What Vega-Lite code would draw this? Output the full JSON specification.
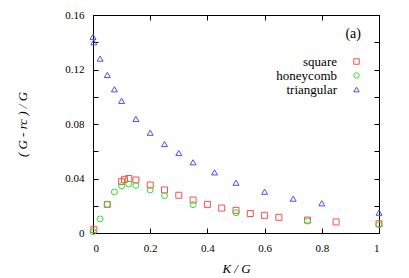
{
  "$schema": "https://vega.github.io/schema/vega-lite/v6.json",
  "autosize": "none",
  "width": 286,
  "height": 218,
  "padding": {"left": 93, "top": 15, "right": 30, "bottom": 45},
  "background": "white",
  "config": {
    "view": {"stroke": "black", "strokeWidth": 1},
    "font": "Liberation Serif",
    "axis": {"grid": false, "domainColor": "black", "tickColor": "black", "labelColor": "black", "titleColor": "black", "labelFont": "Liberation Serif", "titleFont": "Liberation Serif", "labelFontSize": 11, "titleFontSize": 13, "titleFontWeight": "normal", "titleFontStyle": "italic"},
    "legend": {"labelFont": "Liberation Serif", "titleFont": "Liberation Serif"}
  },
  "data": {"values": [
    {"lattice": "triangular", "K": 0.0, "v": 0.144},
    {"lattice": "triangular", "K": 0.003, "v": 0.140},
    {"lattice": "triangular", "K": 0.025, "v": 0.128},
    {"lattice": "triangular", "K": 0.05, "v": 0.116},
    {"lattice": "triangular", "K": 0.075, "v": 0.1055},
    {"lattice": "triangular", "K": 0.1, "v": 0.097},
    {"lattice": "triangular", "K": 0.15, "v": 0.0837},
    {"lattice": "triangular", "K": 0.2, "v": 0.0736},
    {"lattice": "triangular", "K": 0.25, "v": 0.0653},
    {"lattice": "triangular", "K": 0.3, "v": 0.0587},
    {"lattice": "triangular", "K": 0.35, "v": 0.0519},
    {"lattice": "triangular", "K": 0.425, "v": 0.0445},
    {"lattice": "triangular", "K": 0.5, "v": 0.0369},
    {"lattice": "triangular", "K": 0.6, "v": 0.0303},
    {"lattice": "triangular", "K": 0.7, "v": 0.0252},
    {"lattice": "triangular", "K": 0.8, "v": 0.0218},
    {"lattice": "triangular", "K": 1.0, "v": 0.0149},
    {"lattice": "square", "K": 0.003, "v": 0.0025},
    {"lattice": "square", "K": 0.05, "v": 0.021},
    {"lattice": "square", "K": 0.1, "v": 0.0377},
    {"lattice": "square", "K": 0.11, "v": 0.0394},
    {"lattice": "square", "K": 0.125, "v": 0.040},
    {"lattice": "square", "K": 0.15, "v": 0.0389},
    {"lattice": "square", "K": 0.2, "v": 0.0352},
    {"lattice": "square", "K": 0.25, "v": 0.0316},
    {"lattice": "square", "K": 0.3, "v": 0.0277},
    {"lattice": "square", "K": 0.35, "v": 0.0242},
    {"lattice": "square", "K": 0.4, "v": 0.021},
    {"lattice": "square", "K": 0.45, "v": 0.0183},
    {"lattice": "square", "K": 0.5, "v": 0.0166},
    {"lattice": "square", "K": 0.55, "v": 0.0143},
    {"lattice": "square", "K": 0.6, "v": 0.013},
    {"lattice": "square", "K": 0.65, "v": 0.0115},
    {"lattice": "square", "K": 0.75, "v": 0.0095},
    {"lattice": "square", "K": 0.85, "v": 0.0081},
    {"lattice": "square", "K": 1.0, "v": 0.0068},
    {"lattice": "honeycomb", "K": 0.0, "v": 0.001},
    {"lattice": "honeycomb", "K": 0.025, "v": 0.0103},
    {"lattice": "honeycomb", "K": 0.05, "v": 0.021},
    {"lattice": "honeycomb", "K": 0.075, "v": 0.0301},
    {"lattice": "honeycomb", "K": 0.1, "v": 0.0347},
    {"lattice": "honeycomb", "K": 0.125, "v": 0.036},
    {"lattice": "honeycomb", "K": 0.15, "v": 0.035},
    {"lattice": "honeycomb", "K": 0.2, "v": 0.0316},
    {"lattice": "honeycomb", "K": 0.25, "v": 0.0274},
    {"lattice": "honeycomb", "K": 0.35, "v": 0.0208},
    {"lattice": "honeycomb", "K": 0.5, "v": 0.0149},
    {"lattice": "honeycomb", "K": 0.75, "v": 0.0088},
    {"lattice": "honeycomb", "K": 1.0, "v": 0.0061}
  ]},
  "resolve": {"axis": {"x": "independent", "y": "independent"}},
  "layer": [
    {
      "mark": {"type": "point", "filled": false, "strokeWidth": 1, "opacity": 1, "size": 36},
      "encoding": {
        "x": {"field": "K", "type": "quantitative", "scale": {"domain": [0, 1], "nice": false, "zero": false},
          "axis": {"orient": "bottom", "title": "K / G", "values": [0, 0.2, 0.4, 0.6, 0.8, 1], "format": "~g", "tickSize": -5, "labelPadding": 14, "titlePadding": 9}},
        "y": {"field": "v", "type": "quantitative", "scale": {"domain": [0, 0.16], "nice": false, "zero": false},
          "axis": {"orient": "left", "title": "( G - rc ) / G", "values": [0, 0.02, 0.04, 0.06, 0.08, 0.1, 0.12, 0.14, 0.16], "format": "~g", "labelExpr": "round(datum.value*50)%2==0 ? datum.label : ''", "tickSize": -5, "labelPadding": 14, "titlePadding": 35}},
        "color": {"field": "lattice", "type": "nominal", "scale": {"domain": ["square", "honeycomb", "triangular"], "range": ["#ff4d4d", "#33dd33", "#4d4dff"]},
          "legend": {"title": "(a)", "orient": "none", "legendX": 252, "legendY": 12, "titleFontSize": 14, "titleFontWeight": "normal", "titleAnchor": "end", "titlePadding": 14, "labelAlign": "right", "labelOffset": -26, "labelFontSize": 13, "labelColor": "black", "titleColor": "black", "rowPadding": 0, "symbolStrokeWidth": 1, "symbolSize": 30}},
        "shape": {"field": "lattice", "type": "nominal", "scale": {"domain": ["square", "honeycomb", "triangular"], "range": ["square", "circle", "triangle-up"]}}
      }
    },
    {
      "mark": {"type": "point", "opacity": 0},
      "encoding": {
        "x": {"field": "K", "type": "quantitative", "scale": {"domain": [0, 1], "nice": false, "zero": false},
          "axis": {"orient": "top", "title": null, "labels": false, "values": [0, 0.2, 0.4, 0.6, 0.8, 1], "tickSize": -5}},
        "y": {"field": "v", "type": "quantitative", "scale": {"domain": [0, 0.16], "nice": false, "zero": false},
          "axis": {"orient": "right", "title": null, "labels": false, "values": [0, 0.02, 0.04, 0.06, 0.08, 0.1, 0.12, 0.14, 0.16], "tickSize": -5}}
      }
    }
  ]
}
